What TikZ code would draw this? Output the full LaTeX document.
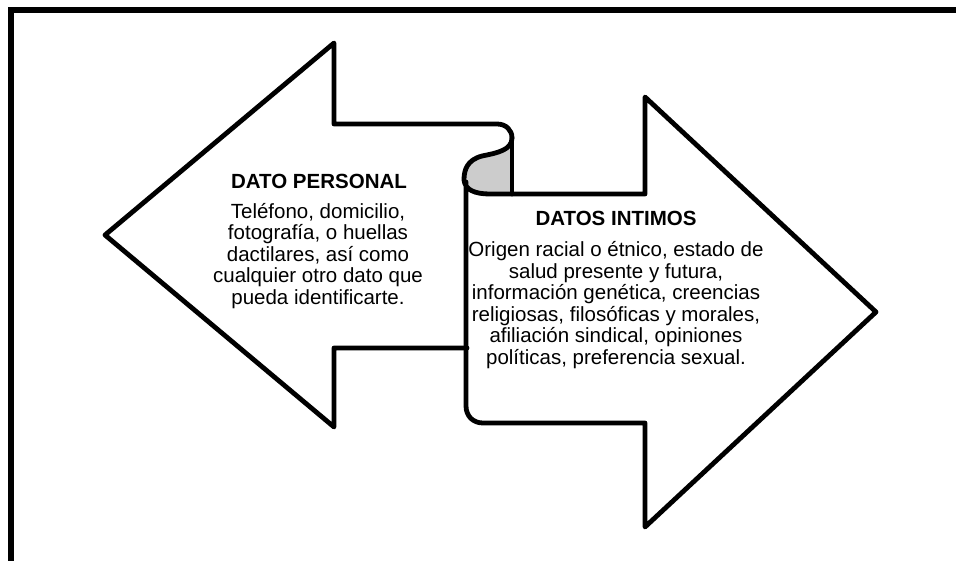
\documentclass[tikz,border=0pt]{standalone}
\usepackage{fontspec}
\setmainfont{Liberation Sans}
\begin{document}
\begin{tikzpicture}[x=1pt,y=-1pt,
  outline/.style={line width=4.8pt,line join=round,line cap=round},
  frameline/.style={line width=6pt},
  titletext/.style={inner sep=0pt,font=\fontsize{20.5}{21.5}\selectfont\bfseries},
  bodytext/.style={inner sep=0pt,align=center,font=\fontsize{20.5}{21.5}\selectfont}]
\useasboundingbox (0,0) rectangle (956,560);
\begin{scope}
\clip (0,0) rectangle (956,560);
\draw[frameline] (11,570) -- (11,10) -- (970,10);
\end{scope}
% key points
\coordinate (ltip) at (105,235);
\coordinate (ltop) at (334,43);
\coordinate (lbot) at (334,427);
\coordinate (rtip) at (876,312);
\coordinate (rtop) at (645,97);
\coordinate (rbot) at (645,527);
% gray curl
\fill[gray!40] (512,138) .. controls (512,150) and (497,153) .. (482,156)
  .. controls (467,160) and (464,170) .. (464,180)
  .. controls (465,190) and (475,194) .. (490,194) -- (512,194) -- cycle;
% left arrow
\draw[outline] (467,348) -- (334,348) -- (lbot) -- (ltip) -- (ltop) -- (334,124) -- (497,124)
  .. controls (506,124) and (512,130) .. (512,138);
% curl and right arrow
\draw[outline] (512,138) -- (512,194);
\draw[outline] (512,138) .. controls (512,150) and (497,153) .. (482,156)
  .. controls (467,160) and (464,170) .. (464,180)
  .. controls (465,190) and (475,194) .. (490,194) -- (645,194) -- (rtop) -- (rtip) -- (rbot)
  -- (645,423) -- (483,423) .. controls (473,423) and (466,416) .. (466,406) -- (466,182);
% texts
\node[titletext] (t1) at (319,181) {DATO PERSONAL};
\node[bodytext] (b1) at (318,256) {Teléfono, domicilio,\\ fotografía, o huellas\\ dactilares, así como\\ cualquier otro dato que\\ pueda identificarte.};
\node[titletext] (t2) at (616,218) {DATOS INTIMOS};
\node[bodytext] (b2) at (616,305) {Origen racial o étnico, estado de\\ salud presente y futura,\\ información genética, creencias\\ religiosas, filosóficas y morales,\\ afiliación sindical, opiniones\\ políticas, preferencia sexual.};
\end{tikzpicture}
\end{document}
